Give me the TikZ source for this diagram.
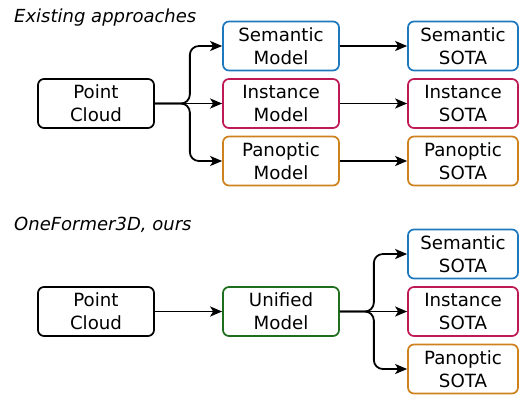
\documentclass[tikz,border=0pt]{standalone}
\usepackage{fontspec}
\setmainfont{DejaVu Sans}
\usetikzlibrary{arrows.meta}
\definecolor{semblue}{RGB}{30,120,190}
\definecolor{insred}{RGB}{190,25,85}
\definecolor{panorange}{RGB}{205,130,30}
\definecolor{unigreen}{RGB}{30,110,30}
\tikzset{
  box/.style={draw=#1, line width=1.7pt, rounded corners=6pt, minimum width=116pt,
    minimum height=49pt, align=center, inner sep=0pt,
    font=\fontsize{18.2}{23}\selectfont},
  box/.default=black,
  sotabox/.style={box=#1, minimum width=110pt},
  link/.style={line width=1.8pt, -{Stealth[length=12pt,width=10pt,inset=3pt]}},
  branch/.style={link, rounded corners=9pt},
  heading/.style={anchor=base west, inner sep=0pt, font=\fontsize{18}{20}\selectfont\itshape},
}
\begin{document}
\begin{tikzpicture}[x=1pt,y=-1pt]
\useasboundingbox (0,0) rectangle (519,394);

% separate task-specific models
\node[heading] (t1) at (14,22.7) {Existing approaches};
\node[box] (pc1) at (96,103.5) {Point\\Cloud};
\node[box=semblue] (sm) at (281,46) {Semantic\\Model};
\node[box=insred] (im) at (281,103.5) {Instance\\Model};
\node[box=panorange] (pm) at (281,161) {Panoptic\\Model};
\node[sotabox=semblue] (ss1) at (463,46) {Semantic\\SOTA};
\node[sotabox=insred] (is1) at (463,103.5) {Instance\\SOTA};
\node[sotabox=panorange] (ps1) at (463,161) {Panoptic\\SOTA};

\draw[branch] (pc1.east) -- ++(35,0) |- (sm.west);
\draw[branch] (pc1.east) -- ++(35,0) |- (pm.west);
\draw[link] (pc1.east) -- (im.west);
\draw[link] (sm.east) -- (ss1.west);
\draw[link] (im.east) -- (is1.west);
\draw[link] (pm.east) -- (ps1.west);

% single unified model
\node[heading] (t2) at (14,230) {OneFormer3D, ours};
\node[box] (pc2) at (96,311.5) {Point\\Cloud};
\node[box=unigreen] (um) at (281,311.5) {Unified\\Model};
\node[sotabox=semblue] (ss2) at (463,254) {Semantic\\SOTA};
\node[sotabox=insred] (is2) at (463,311.5) {Instance\\SOTA};
\node[sotabox=panorange] (ps2) at (463,369) {Panoptic\\SOTA};

\draw[link] (pc2.east) -- (um.west);
\draw[branch] (um.east) -- ++(34,0) |- (ss2.west);
\draw[branch] (um.east) -- ++(34,0) |- (ps2.west);
\draw[link] (um.east) -- (is2.west);
\end{tikzpicture}
\end{document}
